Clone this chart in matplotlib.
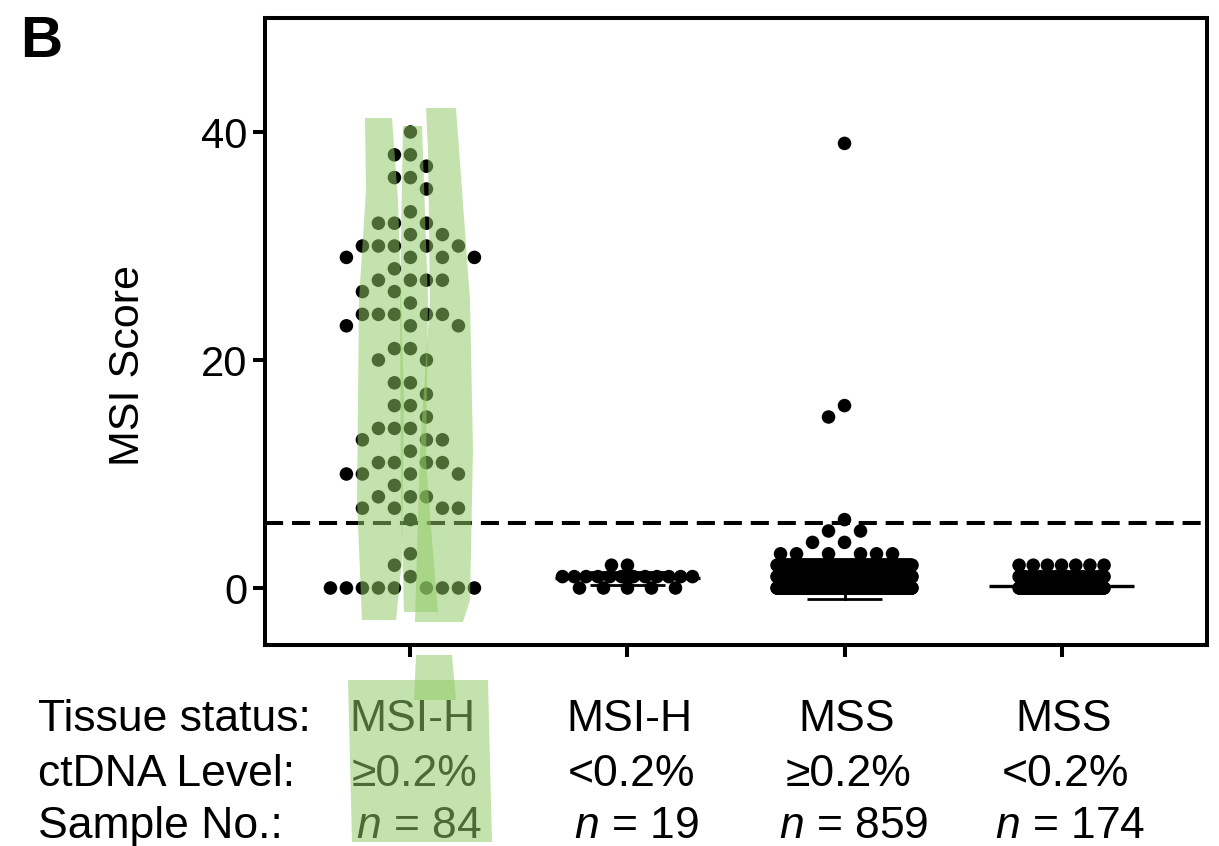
import numpy as np
import matplotlib
matplotlib.use("Agg")
import matplotlib.pyplot as plt
from matplotlib.patches import Polygon
from matplotlib.transforms import blended_transform_factory

plt.rcParams['font.family'] = ['Liberation Sans', 'DejaVu Sans']
plt.rcParams['mathtext.fontset'] = 'custom'
plt.rcParams['mathtext.it'] = 'Liberation Sans:italic'
plt.rcParams['mathtext.rm'] = 'Liberation Sans'

# ---------------- data ----------------
tissue_status = ["MSI-H", "MSI-H", "MSS", "MSS"]
ctdna_level = ["\u22650.2%", "<0.2%", "\u22650.2%", "<0.2%"]
sample_n = [84, 19, 859, 174]

g1_scores = [40, 38, 37, 36, 35, 33, 32, 31, 30, 29, 28, 27, 26, 25, 24, 23, 21, 20,
             18, 17, 16, 15, 14, 13, 12, 11, 10, 9, 8, 7, 6, 3, 2, 1, 0]
g1_counts = [1, 2, 1, 2, 1, 1, 3, 2, 5, 4, 1, 4, 2, 1, 5, 3, 2, 2,
             2, 1, 2, 1, 3, 3, 1, 4, 4, 1, 3, 4, 1, 1, 1, 1, 9]
g2_scores = [2, 1, 0]
g2_counts = [2, 12, 5]
g3_scores = [39, 16, 15, 6, 5, 4, 3, 2, 1, 0]
g3_counts = [1, 1, 1, 1, 2, 2, 6, 125, 300, 420]
g4_scores = [2, 1, 0]
g4_counts = [7, 17, 150]

threshold = 5.7
y_ticks = [0, 20, 40]

groups = [
    np.repeat(g1_scores, g1_counts).astype(float),
    np.repeat(g2_scores, g2_counts).astype(float),
    np.repeat(g3_scores, g3_counts).astype(float),
    np.repeat(g4_scores, g4_counts).astype(float),
]
show_mean_sd = [False, True, True, True]
row_caps_px = [None, 130, 135, 85]

# ---------------- figure ----------------
W, H = 1219, 846
fig = plt.figure(figsize=(W / 100, H / 100), dpi=100)
ax = fig.add_axes([265 / W, 1 - 645 / H, (1207 - 265) / W, (645 - 18) / H])
ax.set_xlim(-0.67, 3.67)
ax.set_ylim(-5, 50)

ppx = ax.get_position().width * W / (3.67 + 0.67)
ppy = ax.get_position().height * H / 55.0


def swarm_offsets(vals, cap_px, step=16.0, grid=8.0, mind=15.5):
    vals = np.asarray(vals, float)
    order = np.argsort(-vals, kind="stable")
    uniq, counts = np.unique(vals, return_counts=True)
    cnt = dict(zip(uniq, counts))
    maxc = cap_px / 2 if cap_px else 300
    c = np.arange(grid, maxc + 1e-9, grid)
    cands = np.concatenate([[0.0], np.column_stack([-c, c]).ravel()])
    placed = []
    dense_idx = {}
    off = np.zeros(len(vals))
    for i in order:
        v = vals[i]
        k = cnt[v]
        y = v * ppy
        if cap_px and (k - 1) * step > cap_px:
            j = dense_idx.get(v, 0)
            dense_idx[v] = j + 1
            x = -cap_px / 2 + cap_px * j / (k - 1)
        else:
            if placed:
                P = np.array(placed)
                d = np.hypot(cands[:, None] - P[None, :, 0], y - P[None, :, 1]).min(axis=1)
                ok = np.where(d >= mind)[0]
                x = cands[ok[0]] if len(ok) else cands[np.argmax(d)]
            else:
                x = 0.0
        placed.append((x, y))
        off[i] = x / ppx
    return off


for gi, vals in enumerate(groups):
    offs = swarm_offsets(vals, row_caps_px[gi])
    ax.scatter(gi + offs, vals, s=95, color="black", edgecolors="none", zorder=3)
    if show_mean_sd[gi]:
        m = vals.mean()
        sd = vals.std(ddof=1)
        ax.plot([gi - 0.334, gi + 0.334], [m, m], color="black", lw=2.4, zorder=4,
                solid_capstyle="butt")
        ax.plot([gi, gi], [m - sd, m + sd], color="black", lw=2.0, zorder=4)
        for yy in (m - sd, m + sd):
            ax.plot([gi - 0.173, gi + 0.173], [yy, yy], color="black", lw=2.0, zorder=4,
                    solid_capstyle="butt")

ax.axhline(threshold, color="black", lw=2.9, linestyle=(0, (4.5, 2.2)), zorder=2)

for s in ax.spines.values():
    s.set_linewidth(2.9)
ax.set_xticks(range(4))
ax.set_xticklabels([])
ax.set_yticks(y_ticks)
ax.set_yticklabels([str(t) for t in y_ticks], fontsize=30)
ax.tick_params(axis="both", direction="out", length=8.5, width=2.9, pad=4)

fig.text(128 / W, 1 - 365 / H, "MSI Score", rotation=90, ha="center", va="center",
         fontsize=31)
fig.text(20 / W, 1 - 57 / H, "B", fontweight="bold", fontsize=42, va="baseline",
         ha="left")

# table below the axis
tr = blended_transform_factory(ax.transData, fig.transFigure)
row_y = [1 - 731 / H, 1 - 786 / H, 1 - 838 / H]
row_names = ["Tissue status:", "ctDNA Level:", "Sample No.:"]
for name, yy in zip(row_names, row_y):
    fig.text(38 / W, yy, name, fontsize=32, ha="left", va="baseline")
for gi in range(4):
    fig.text(gi + 0.01, row_y[0], tissue_status[gi], transform=tr, fontsize=32,
             ha="center", va="baseline")
    fig.text(gi + 0.02, row_y[1], ctdna_level[gi], transform=tr, fontsize=32,
             ha="center", va="baseline", family=["Liberation Sans", "DejaVu Sans"])
    fig.text(gi + 0.04, row_y[2], r"$\mathit{n}$ = " + str(sample_n[gi]), transform=tr,
             fontsize=32, ha="center", va="baseline")

# green highlighter marks (annotation on the reference)
hl_color = "#91ca64"
strokes = [
    [(365, 118), (392, 118), (398, 200), (404, 400), (402, 560), (396, 620), (362, 620),
     (357, 500), (359, 300), (366, 190)],
    [(403, 126), (422, 126), (428, 300), (426, 460), (432, 540), (438, 612), (404, 612),
     (401, 500), (400, 300)],
    [(426, 108), (456, 108), (458, 135), (470, 300), (473, 450), (470, 600), (463, 622),
     (415, 622), (420, 450), (430, 300), (428, 150)],
    [(416, 655), (452, 655), (456, 700), (414, 700)],
    [(348, 680), (488, 680), (492, 842), (352, 842)],
]
for pts in strokes:
    poly = Polygon([(x / W, 1 - y / H) for x, y in pts], closed=True,
                   transform=fig.transFigure, facecolor=hl_color, edgecolor="none",
                   alpha=0.53, zorder=20)
    fig.add_artist(poly)

fig.savefig("out.png", dpi=100)
